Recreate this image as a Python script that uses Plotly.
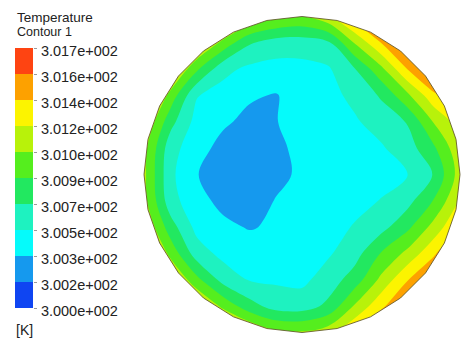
import numpy as np
import plotly.graph_objects as go

# Contour levels of the legend [K] and their printed labels
levels = [300.00, 300.17, 300.34, 300.51, 300.68, 300.85,
          301.02, 301.19, 301.36, 301.53, 301.70]
tick_labels = ["3.000e+002", "3.002e+002", "3.003e+002", "3.005e+002",
               "3.007e+002", "3.009e+002", "3.010e+002", "3.012e+002",
               "3.014e+002", "3.016e+002", "3.017e+002"]
# one colour per band, coldest first
band_colors = ["#0f45f2", "#1599ee", "#05fbfb", "#1ef2c0", "#22e860",
               "#55ee1e", "#b8f20a", "#fcf400", "#fda100", "#fe4412"]

# Sampling grid over the section (unit radius)
grid = [-1.0, -5/6, -4/6, -3/6, -2/6, -1/6, 0.0, 1/6, 2/6, 3/6, 4/6, 5/6, 1.0]

# Nodal temperature [K]; rows run from y = -1 (bottom) to y = +1 (top)
temperature = [
    [302.20, 301.90, 301.60, 301.38, 301.21, 301.06, 301.04, 301.12, 301.37, 301.61, 301.85, 302.10, 302.30],
    [301.90, 301.57, 301.25, 300.98, 300.75, 300.61, 300.60, 300.72, 301.04, 301.32, 301.57, 301.84, 302.10],
    [301.62, 301.245, 300.90, 300.62, 300.50, 300.485, 300.47, 300.59, 300.76, 301.06, 301.35, 301.58, 301.83],
    [301.40, 300.97, 300.595, 300.46, 300.42, 300.42, 300.44, 300.49, 300.61, 300.86, 301.065, 301.33, 301.62],
    [301.20, 300.76, 300.46, 300.375, 300.33, 300.36, 300.40, 300.46, 300.52, 300.62, 300.81, 301.08, 301.38],
    [301.08, 300.58, 300.39, 300.30, 300.28, 300.345, 300.38, 300.44, 300.47, 300.515, 300.62, 300.86, 301.20],
    [301.06, 300.55, 300.345, 300.28, 300.27, 300.31, 300.36, 300.40, 300.43, 300.47, 300.50, 300.69, 301.10],
    [301.08, 300.58, 300.40, 300.29, 300.28, 300.315, 300.37, 300.42, 300.46, 300.49, 300.60, 300.82, 301.15],
    [301.21, 300.74, 300.45, 300.365, 300.30, 300.335, 300.39, 300.43, 300.49, 300.58, 300.69, 301.03, 301.28],
    [301.42, 300.96, 300.52, 300.44, 300.36, 300.33, 300.41, 300.46, 300.55, 300.70, 300.98, 301.31, 301.55],
    [301.68, 301.27, 300.88, 300.56, 300.47, 300.45, 300.46, 300.49, 300.67, 300.97, 301.36, 301.68, 301.92],
    [302.00, 301.63, 301.26, 300.97, 300.70, 300.60, 300.59, 300.65, 301.03, 301.36, 301.70, 301.93, 302.20],
    [302.30, 301.98, 301.65, 301.39, 301.18, 301.06, 301.01, 301.15, 301.45, 301.75, 301.94, 302.24, 302.50],
]

W, H = 464, 339
FONT = "Arial, Liberation Sans, sans-serif"
TEXT = "#222222"

step = levels[1] - levels[0]
n_bands = len(band_colors)
# piecewise colour table: band k is sampled at k/(n-1)
colorscale = [[k / (n_bands - 1), c] for k, c in enumerate(band_colors)]

fig = go.Figure()

fig.add_trace(go.Contour(
    x=grid, y=grid, z=temperature,
    autocontour=False,
    contours=dict(start=levels[1], end=levels[-2] + step * 0.03, size=step,
                  coloring="fill", showlines=False),
    line=dict(width=0),
    colorscale=colorscale,
    showscale=False,
    hoverinfo="skip",
))

# legend key: one stacked block per band
fig.add_trace(go.Bar(
    x=[0] * n_bands,
    y=list(np.diff(levels)),
    base=levels[:-1],
    width=1,
    marker=dict(color=band_colors, line=dict(width=0)),
    xaxis="x2", yaxis="y2",
    showlegend=False, hoverinfo="skip",
))

# faceted outline of the section
n_facets = 28
ang = np.deg2rad(90 + np.arange(n_facets) * 360 / n_facets)
px_, py_ = np.cos(ang), np.sin(ang)
poly = "M " + " L ".join(f"{a:.4f},{b:.4f}" for a, b in zip(px_, py_)) + " Z"
pad = 1.03
frame = f"M {-pad},{-pad} L {pad},{-pad} L {pad},{pad} L {-pad},{pad} Z "

shapes = [
    dict(type="path", path=frame + poly, xref="x", yref="y", fillcolor="white",
         line=dict(width=0), fillrule="evenodd", layer="above"),
    dict(type="path", path=poly, xref="x", yref="y",
         line=dict(color="rgba(95,85,40,0.85)", width=1), layer="above"),
]

# axis ranges give 158 px per unit radius, centred at (302, 174.5) px
R = 158.0
cx, cy = 302.0, 174.5
xr = [-cx / R, (W - cx) / R]
yr = [-(H - cy) / R, cy / R]

bar_top, bar_bot = 48, 308
fig.update_layout(
    width=W, height=H,
    margin=dict(l=0, r=0, t=0, b=0, pad=0, autoexpand=False),
    paper_bgcolor="white", plot_bgcolor="white",
    barmode="overlay",
    xaxis=dict(range=xr, domain=[0, 1], visible=False, fixedrange=True),
    yaxis=dict(range=yr, domain=[0, 1], visible=False, fixedrange=True),
    xaxis2=dict(domain=[15 / W, 33 / W], range=[-0.5, 0.5], visible=False,
                anchor="y2", fixedrange=True),
    yaxis2=dict(domain=[1 - bar_bot / H, 1 - bar_top / H], range=[levels[0], levels[-1]],
                anchor="x2", side="right", tickmode="array",
                tickvals=levels, ticktext=tick_labels,
                ticks="outside", ticklen=3, tickcolor="#9a9a9a", tickwidth=1,
                tickfont=dict(family=FONT, size=14.5, color=TEXT),
                ticklabelshift=3, ticklabelstandoff=1, automargin=False,
                showgrid=False, zeroline=False, showline=False, fixedrange=True),
    shapes=shapes,
    annotations=[
        dict(text="Temperature", x=15 / W, y=1 - 18 / H, xref="paper", yref="paper",
             xanchor="left", yanchor="middle", showarrow=False,
             font=dict(family=FONT, size=13.5, color=TEXT)),
        dict(text="Contour 1", x=15 / W, y=1 - 32 / H, xref="paper", yref="paper",
             xanchor="left", yanchor="middle", showarrow=False,
             font=dict(family=FONT, size=12.5, color=TEXT)),
        dict(text="[K]", x=14 / W, y=1 - 330 / H, xref="paper", yref="paper",
             xanchor="left", yanchor="middle", showarrow=False,
             font=dict(family=FONT, size=14, color=TEXT)),
    ],
    showlegend=False,
    hovermode=False,
)

fig.write_html("out.html", config={"displayModeBar": False})
